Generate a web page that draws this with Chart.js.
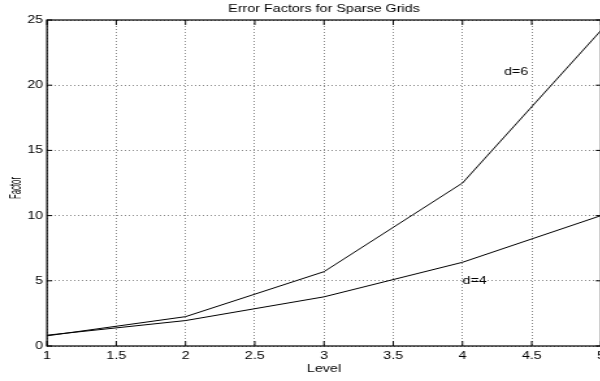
<!DOCTYPE html>
<html>
<head>
<meta charset="utf-8">
<script src="https://cdn.jsdelivr.net/npm/chart.js@4/dist/chart.umd.min.js"></script>
<style>
  html, body { margin: 0; padding: 0; background: #fff; overflow: hidden; width: 600px; height: 381px; }
  #wrap { position: absolute; left: 0; top: 0; width: 470px; height: 381px; transform: scaleX(1.3); transform-origin: 0 0; }
  canvas { display: block; }
</style>
</head>
<body>
<div id="wrap"><canvas id="c" width="470" height="381"></canvas></div>
<script>
// ---- data ----
const levels = [1, 2, 3, 4, 5];
const factorD4 = [0.83, 1.95, 3.77, 6.42, 10.0];
const factorD6 = [0.78, 2.25, 5.7, 12.5, 24.2];
const seriesNames = ['d=4', 'd=6'];
const labelX = [4.0, 4.3];
const labelY = [5.0, 21.0];
const titleText = 'Error Factors for Sparse Grids';
const xTitle = 'Level';
const yTitle = 'Factor';

const FONT = "'Liberation Sans', Arial, Helvetica, sans-serif";

const framePlugin = {
  id: 'frame',
  afterDatasetsDraw(chart) {
    const ctx = chart.ctx;
    const a = chart.chartArea;
    const xs = chart.scales.x, ys = chart.scales.y;
    ctx.save();
    // annotations
    ctx.fillStyle = '#000';
    ctx.font = '11px ' + FONT;
    ctx.textAlign = 'left';
    ctx.textBaseline = 'middle';
    seriesNames.forEach((n, i) => {
      ctx.fillText(n, xs.getPixelForValue(labelX[i]), ys.getPixelForValue(labelY[i]));
    });
    // frame
    ctx.strokeStyle = '#000';
    ctx.lineWidth = 1.2;
    ctx.strokeRect(a.left, a.top, a.right - a.left, a.bottom - a.top);
    // inward ticks
    ctx.lineWidth = 1;
    const tlx = 5, tly = 4;
    xs.ticks.forEach(t => {
      const px = xs.getPixelForValue(t.value);
      ctx.beginPath();
      ctx.moveTo(px, a.bottom); ctx.lineTo(px, a.bottom - tlx);
      ctx.moveTo(px, a.top); ctx.lineTo(px, a.top + tlx);
      ctx.stroke();
    });
    ys.ticks.forEach(t => {
      const py = ys.getPixelForValue(t.value);
      ctx.beginPath();
      ctx.moveTo(a.left, py); ctx.lineTo(a.left + tly, py);
      ctx.moveTo(a.right, py); ctx.lineTo(a.right - tly, py);
      ctx.stroke();
    });
    // title
    const cx = (a.left + a.right) / 2;
    ctx.textAlign = 'center';
    ctx.textBaseline = 'alphabetic';
    ctx.font = '11px ' + FONT;
    ctx.fillText(titleText, cx, 12);
    ctx.fillText(xTitle, cx, 372);
    // y title (condensed, rotated)
    ctx.save();
    ctx.translate(13, (a.top + a.bottom) / 2 + 5);
    ctx.rotate(-Math.PI / 2);
    ctx.scale(0.71, 1.14);
    ctx.textBaseline = 'middle';
    ctx.fillText(yTitle, 0, 0);
    ctx.restore();
    ctx.restore();
  }
};

const fmt = v => String(Math.round(v * 100) / 100);

new Chart(document.getElementById('c'), {
  type: 'line',
  data: {
    datasets: [
      { label: seriesNames[0], data: levels.map((l, i) => ({ x: l, y: factorD4[i] })), borderColor: '#000', borderWidth: 1, pointRadius: 0, tension: 0, fill: false },
      { label: seriesNames[1], data: levels.map((l, i) => ({ x: l, y: factorD6[i] })), borderColor: '#000', borderWidth: 1, pointRadius: 0, tension: 0, fill: false }
    ]
  },
  options: {
    responsive: false,
    animation: false,
    devicePixelRatio: 1,
    layout: { padding: { top: 20, right: 7.7, left: 0, bottom: 0 } },
    plugins: { legend: { display: false }, title: { display: false }, tooltip: { enabled: false } },
    scales: {
      x: {
        type: 'linear', min: 1, max: 5,
        ticks: { stepSize: 0.5, color: '#000', padding: 3, font: { family: FONT, size: 11 }, maxRotation: 0, autoSkip: false, callback: fmt },
        grid: { color: '#888', lineWidth: 1, drawTicks: false },
        border: { display: false, dash: [1, 2] },
        afterFit(s) { s.height = 35; }
      },
      y: {
        type: 'linear', min: 0, max: 25,
        ticks: { stepSize: 5, color: '#000', padding: 3, font: { family: FONT, size: 11 }, callback: fmt },
        grid: { color: '#888', lineWidth: 1, drawTicks: false },
        border: { display: false, dash: [1, 2] },
        afterFit(s) { s.width = 36.15; }
      }
    }
  },
  plugins: [framePlugin]
});
</script>
</body>
</html>
